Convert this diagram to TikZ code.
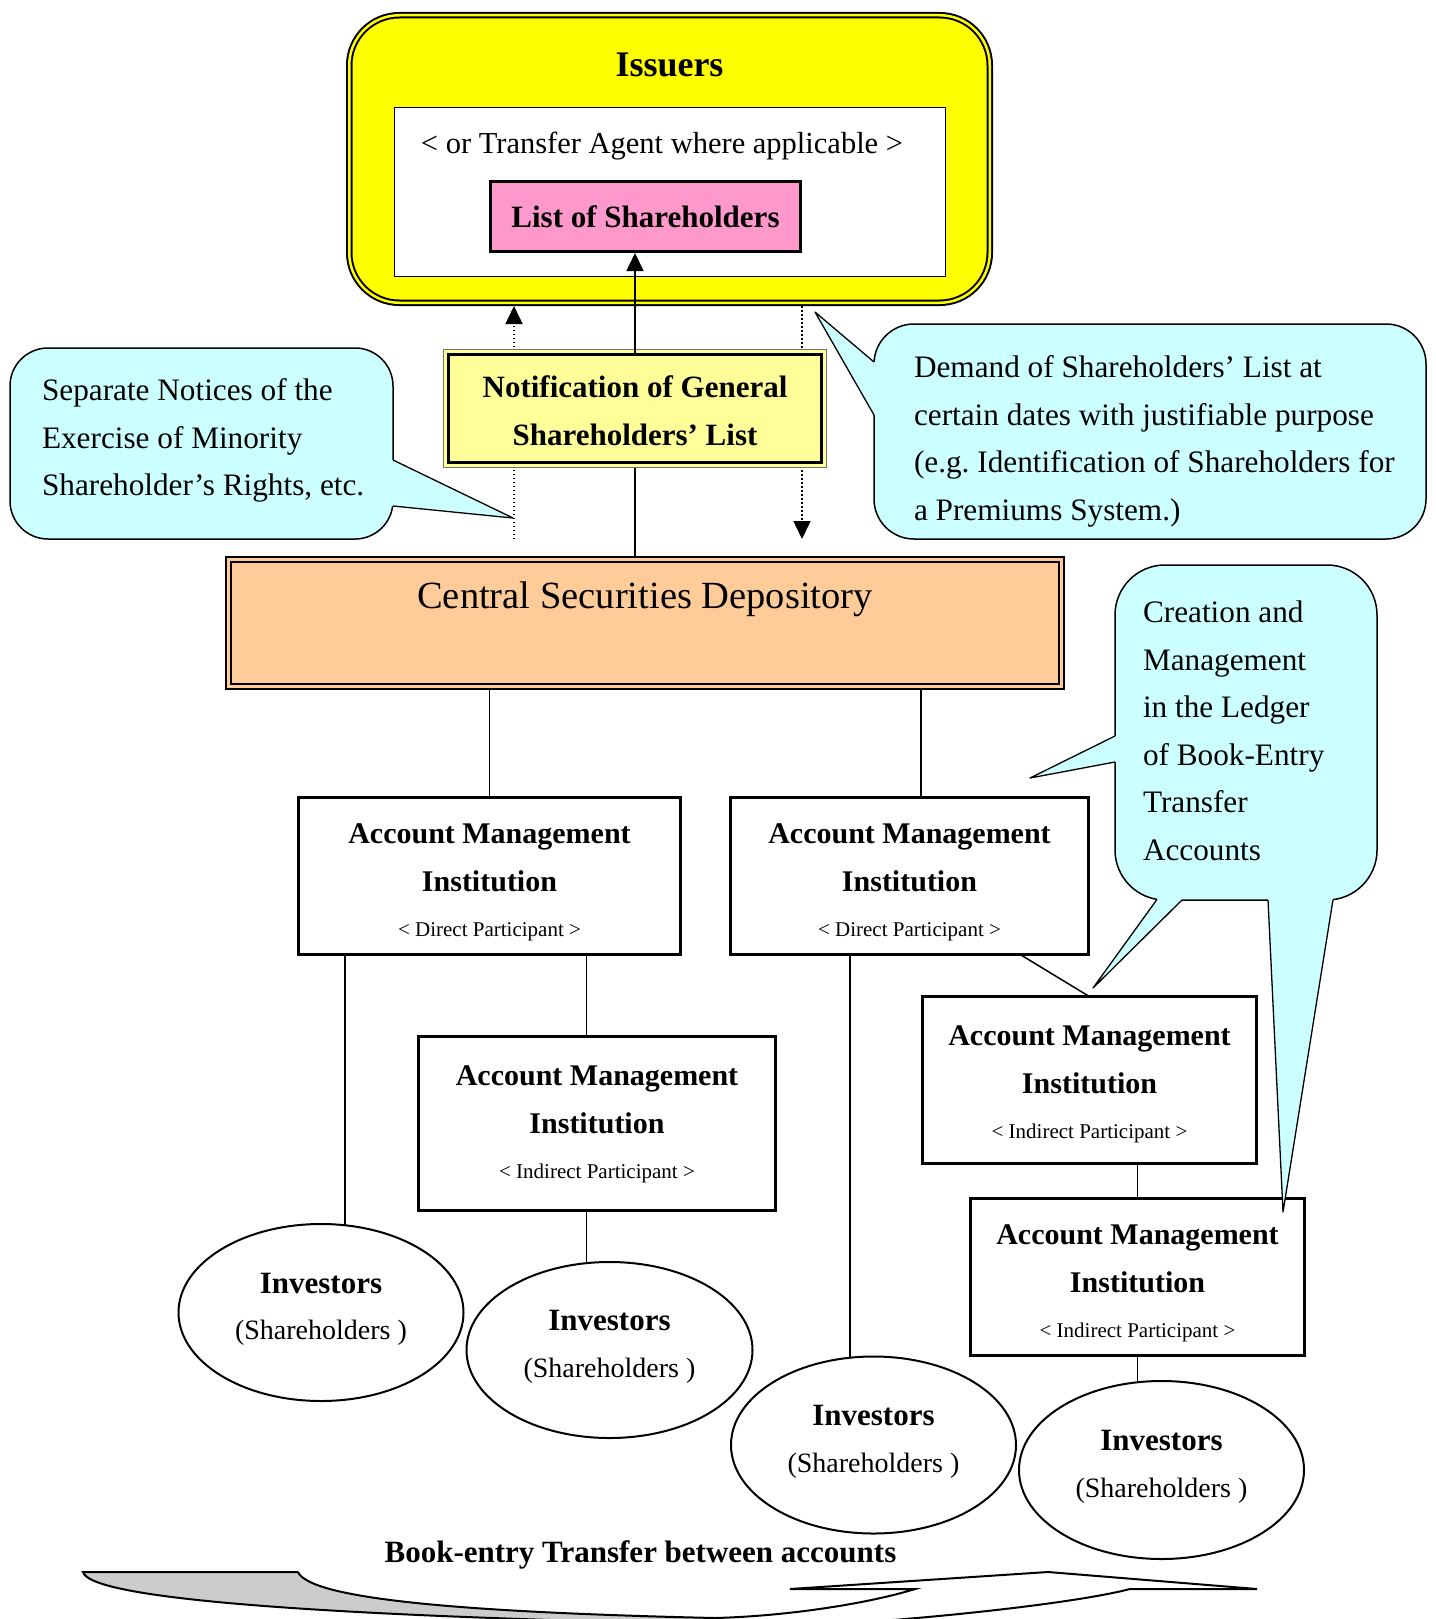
\documentclass[tikz,border=0pt]{standalone}
\usepackage{fontspec}
\setmainfont{Liberation Serif}
\usetikzlibrary{arrows.meta,shapes.geometric}
\pgfdeclarelayer{bg}
\pgfsetlayers{bg,main}
\definecolor{issY}{HTML}{FFFF00}
\definecolor{pinkc}{HTML}{FF99CC}
\definecolor{notifc}{HTML}{FFFF99}
\definecolor{csdc}{HTML}{FFCC99}
\definecolor{callc}{HTML}{CCFFFF}
\definecolor{grayc}{HTML}{CCCCCC}
\newcommand*\ffIss{\fontsize{36}{40}\selectfont\bfseries}
\newcommand*\ffAgent{\fontsize{30.5}{36}\selectfont}
\newcommand*\ffBold{\fontsize{31}{47.5}\selectfont\bfseries}
\newcommand*\ffAmi{\fontsize{30}{48}\selectfont\bfseries}
\newcommand*\ffSmall{\fontsize{21}{48}\selectfont\mdseries}
\newcommand*\ffCall{\fontsize{31.25}{47.5}\selectfont}
\newcommand*\ffCsd{\fontsize{38.5}{46}\selectfont}
\newcommand*\ffInv{\fontsize{31}{46.5}\selectfont\bfseries}
\newcommand*\ffSh{\fontsize{28}{46.5}\selectfont\mdseries}
\tikzset{
  conn/.style={line width=1.5pt, draw=black},
  dotl/.style={line width=1.5pt, dash pattern=on 1.5pt off 2.5pt},
  atip/.style={-{Triangle[length=18pt,width=17pt]}},
  issbox/.style={draw=black, line width=2pt, double=issY, double distance=2.5pt, fill=issY, rounded corners=50pt},
  csdbox/.style={draw=black, line width=2pt, double=csdc, double distance=3pt, fill=csdc},
  amibox/.style={draw, line width=3.2pt, fill=white},
  amitext/.style={align=center, font=\ffAmi},
  invell/.style={ellipse, draw, line width=2pt, fill=white},
  invtext/.style={align=center, font=\ffInv},
  callout/.style={fill=callc, draw=black, line width=1.5pt},
  callptr/.style={draw=black, line width=1.3pt, line join=round},
  calltext/.style={font=\ffCall, align=left, anchor=west},
}
\begin{document}
\begin{tikzpicture}[x=1pt,y=-1pt, every node/.style={inner sep=0pt,outer sep=0pt}]
\useasboundingbox (0,0) rectangle (1435,1619);

% ---------------- Issuers
\node[issbox, minimum width=640.5pt, minimum height=287.5pt] (iss) at (669.5,159) {};
\node[font=\ffIss] (isst) at (669.5,65) {Issuers};
\node[draw, line width=1.5pt, fill=white, minimum width=551pt, minimum height=169pt] (agent) at (670,192) {};
\node[font=\ffAgent] (agentt) at (662,146.5) {< or Transfer Agent where applicable >};
\node[draw, line width=3pt, fill=pinkc, minimum width=310pt, minimum height=70pt, font=\ffBold] (pink) at (645.5,216.5) {List of Shareholders};

% ---------------- dotted arrows
\coordinate (dl) at (514,539);
\coordinate (dr) at (802,539);
\draw[dotl, atip, shorten >=3.25pt] (dl) -- (dl |- iss.south);
\draw[dotl, atip, shorten <=3.25pt] (dr |- iss.south) -- (dr);

% ---------------- Notification
\node[draw=black!55, line width=1pt, fill=notifc, minimum width=383pt, minimum height=118pt] (notifo) at (635,408.5) {};
\node[draw, line width=3pt, fill=notifc, minimum width=373pt, minimum height=108pt] (notif) at (635,408.5) {};
\node[font=\ffBold, align=center] (notift) at (635,410.5) {Notification of General\\Shareholders’ List};
\draw[conn, atip, shorten >=1.5pt] (notif.north) -- (notif.north |- pink.south);

% ---------------- CSD
\node[csdbox, minimum width=833pt, minimum height=127pt] (csd) at (645,623) {};
\node[font=\ffCsd] (csdt) at (645,599) {Central Securities Depository};

% ---------------- Account Management Institutions
\node[amibox, minimum width=381.8pt, minimum height=156.8pt] (ami1) at (489.5,876) {};
\node[amibox, minimum width=357.8pt, minimum height=156.8pt] (ami2) at (909.5,876) {};
\node[amibox, minimum width=356.8pt, minimum height=173.8pt] (ami3) at (597,1123.5) {};
\node[amibox, minimum width=333.8pt, minimum height=166.8pt] (ami4) at (1089.5,1080) {};
\node[amibox, minimum width=333.8pt, minimum height=156.8pt] (ami5) at (1137.5,1277) {};
\node[amitext] (ami1t) at ([yshift=-6pt]ami1.center) {Account Management\\Institution\\[-3pt]{\ffSmall < Direct Participant >}};
\node[amitext] (ami2t) at ([yshift=-6pt]ami2.center) {Account Management\\Institution\\[-3pt]{\ffSmall < Direct Participant >}};
\node[amitext] (ami3t) at ([yshift=-1pt]ami3.center) {Account Management\\Institution\\[-3pt]{\ffSmall < Indirect Participant >}};
\node[amitext] (ami4t) at ([yshift=-4pt]ami4.center) {Account Management\\Institution\\[-3pt]{\ffSmall < Indirect Participant >}};
\node[amitext] (ami5t) at ([yshift=-6pt]ami5.center) {Account Management\\Institution\\[-3pt]{\ffSmall < Indirect Participant >}};

% ---------------- Investors
\node[invell, minimum width=285pt, minimum height=177pt] (inv1) at (321,1312.5) {};
\node[invell, minimum width=286pt, minimum height=176pt] (inv2) at (609.5,1350) {};
\node[invell, minimum width=285pt, minimum height=177pt] (inv3) at (873.5,1445) {};
\node[invell, minimum width=285pt, minimum height=178pt] (inv4) at (1161.5,1470) {};
\node[invtext] (inv1t) at (321,1309.5) {Investors\\{\ffSh (Shareholders )}};
\node[invtext] (inv2t) at (609.5,1347) {Investors\\{\ffSh (Shareholders )}};
\node[invtext] (inv3t) at (873.5,1442) {Investors\\{\ffSh (Shareholders )}};
\node[invtext] (inv4t) at (1161.5,1467) {Investors\\{\ffSh (Shareholders )}};

% ---------------- connectors (behind nodes)
\coordinate (xa) at (345,0);
\coordinate (xb) at (921,0);
\coordinate (xc) at (586.4,0);
\coordinate (xd) at (850,0);
\coordinate (xe) at (1020,0);
\begin{pgfonlayer}{bg}
  \draw[conn] (notif.south) -- (notif.south |- csd.north);
  \draw[conn] (ami1.north) -- (ami1.north |- csd.south);
  \draw[conn] (xb |- csd.south) -- (xb |- ami2.north);
  \draw[conn] (xc |- ami1.south) -- (xc |- ami3.north);
  \draw[conn] (xa |- ami1.south) -- (xa |- inv1.center);
  \draw[conn] (xc |- ami3.south) -- (xc |- inv2.center);
  \draw[conn] (xd |- ami2.south) -- (xd |- inv3.center);
  \draw[conn] (xe |- ami2.south) -- (ami4.north);
  \draw[conn] (ami5.north) -- (ami5.north |- ami4.south);
  \draw[conn] (ami5.south) -- (ami5.south |- inv4.center);
\end{pgfonlayer}

% ---------------- callouts
% left
\draw[callout, rounded corners=38pt] (10,348) rectangle (393,539);
\fill[callc] (386,460) -- (393,460) -- (513,518) -- (393,506) -- (386,506) -- cycle;
\draw[callptr] (393,460) -- (513,518) -- (393,506);
\node[calltext] (lct) at (42,438.5) {\strut Separate Notices of the\\\strut Exercise of Minority\\\strut Shareholder’s Rights, etc.};
% right top
\draw[callout, rounded corners=40pt] (874,324) rectangle (1426,539);
\fill[callc] (881,362) -- (874,362) -- (815,312) -- (874,415) -- (881,415) -- cycle;
\draw[callptr] (874,362) -- (815,312) -- (874,415);
\node[calltext] (rct) at (914,439.5) {\strut Demand of Shareholders’ List at\\\strut certain dates with justifiable purpose\\\strut (e.g.\ Identification of Shareholders for\\\strut a Premiums System.)};
% right (creation)
\draw[callout, rounded corners=50pt] (1115,565) rectangle (1377,900);
\fill[callc] (1122,736) -- (1115,736) -- (1030,778) -- (1115,762) -- (1122,762) -- cycle;
\draw[callptr] (1115,736) -- (1030,778) -- (1115,762);
\fill[callc] (1157,893) -- (1157,900) -- (1093,988) -- (1182,900) -- (1182,893) -- cycle;
\draw[callptr] (1157,899.4) -- (1093,988) -- (1182,900);
\fill[callc] (1268,893) -- (1268,900) -- (1283,1212) -- (1333,900) -- (1333,893) -- cycle;
\draw[callptr] (1268,900) -- (1283,1212) -- (1333,899.6);
\node[calltext] (cct) at (1143,732) {\strut Creation and\\\strut Management\\\strut in the Ledger\\\strut of Book-Entry\\\strut Transfer\\\strut Accounts};

% ---------------- bottom curved arrow
\node[font=\ffBold] (bet) at (640.5,1555) {Book-entry Transfer between accounts};
\begin{scope}
  \clip (0,0) rectangle (1435,1619);
  \fill[grayc] (83,1572) -- (298,1572) .. controls (310,1598) and (450,1612) .. (715,1618)
     -- (715,1640) -- (551,1640) -- (551,1620) .. controls (300,1612) and (90,1598) .. (83,1572) -- cycle;
  \draw[line width=2pt] (298,1572) -- (83,1572) .. controls (90,1598) and (300,1612) .. (551,1620);
  \draw[line width=2pt] (298,1572) .. controls (310,1598) and (450,1612) .. (715,1618)
     .. controls (790,1616) and (870,1603) .. (915,1589) -- (790,1589) -- (1048,1572)
     -- (1257,1589) -- (1130,1589) .. controls (1080,1602) and (960,1615) .. (880,1621);
\end{scope}
\end{tikzpicture}
\end{document}
